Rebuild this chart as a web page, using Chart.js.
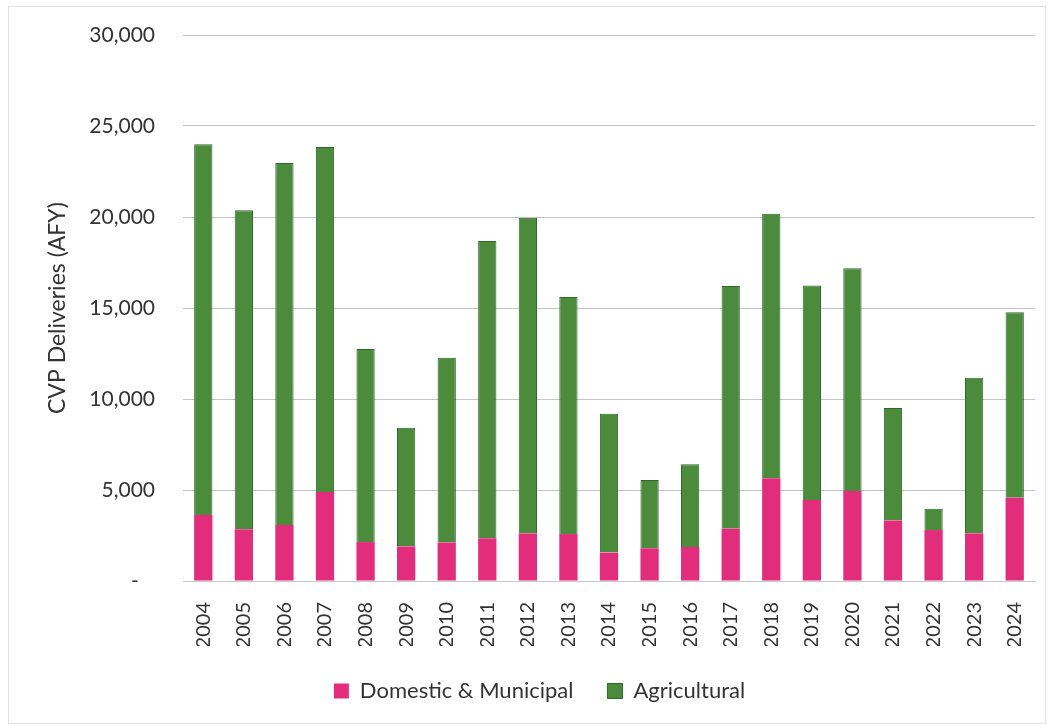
<!DOCTYPE html>
<html>
<head>
<meta charset="utf-8">
<script src="https://cdn.jsdelivr.net/npm/chart.js@4.4.1/dist/chart.umd.min.js"></script>
<style>
  html, body { margin: 0; padding: 0; background: #fff; }
  #wrap { position: relative; width: 1051px; height: 725px; }
  #frame { position: absolute; left: 8px; top: 6px; width: 1036px; height: 716px; border: 1px solid #e2e2e2; pointer-events: none; }
  canvas { display: block; }
</style>
</head>
<body>
<div id="wrap">
  <canvas id="c" width="1051" height="725"></canvas>
  <div id="frame"></div>
</div>
<script>
const years = ['2004','2005','2006','2007','2008','2009','2010','2011','2012','2013','2014','2015','2016','2017','2018','2019','2020','2021','2022','2023','2024'];
const domestic = [3630, 2840, 3080, 4890, 2140, 1900, 2120, 2350, 2620, 2580, 1560, 1800, 1870, 2870, 5640, 4450, 4950, 3330, 2800, 2620, 4580];
const totals   = [24000, 20370, 22970, 23850, 12750, 8420, 12270, 18680, 19960, 15600, 9190, 5550, 6410, 16210, 20180, 16230, 17180, 9510, 3970, 11170, 14760];
const agricultural = totals.map((t, i) => t - domestic[i]);
const yTicks = [0, 5000, 10000, 15000, 20000, 25000, 30000];

const FONT = 'Lato, "Open Sans", sans-serif';

new Chart(document.getElementById('c'), {
  type: 'bar',
  data: {
    labels: years,
    datasets: [
      { label: 'Domestic & Municipal', data: domestic, backgroundColor: '#e22d7d', borderColor: '#d2246f', borderWidth: 0, barPercentage: 0.45, categoryPercentage: 1.0 },
      { label: 'Agricultural', data: agricultural, backgroundColor: '#4c8a3c', borderColor: '#2b6a2b', borderWidth: 1, barPercentage: 0.45, categoryPercentage: 1.0 }
    ]
  },
  options: {
    responsive: false,
    animation: false,
    layout: { padding: { left: 44, right: 16, top: 35, bottom: 13 } },
    plugins: {
      legend: {
        position: 'bottom',
        labels: {
          font: { family: FONT, size: 22 },
          color: '#333',
          boxWidth: 15,
          boxHeight: 15,
          padding: 34
        }
      },
      tooltip: { enabled: false }
    },
    scales: {
      x: {
        stacked: true,
        grid: { display: true, color: 'transparent', drawTicks: true, tickLength: 14, tickColor: 'transparent' },
        border: { display: true, color: '#c8c8c8' },
        ticks: { font: { family: FONT, size: 20 }, color: '#333', minRotation: 90, maxRotation: 90, padding: 7, autoSkip: false },
        afterFit: (s) => { s.height = 65; }
      },
      y: {
        stacked: true,
        min: 0, max: 30000,
        afterBuildTicks: (s) => { s.ticks = yTicks.map(v => ({ value: v })); },
        grid: { color: '#c4c4c4', drawTicks: true, tickLength: 20, tickColor: 'transparent' },
        border: { display: false },
        ticks: {
          font: { family: FONT, size: 21 },
          color: '#333',
          padding: 8,
          callback: (v) => v === 0 ? '-   ' : v.toLocaleString('en-US')
        },
        title: { display: true, text: 'CVP Deliveries (AFY)', font: { family: FONT, size: 23 }, color: '#333', padding: { top: 0, bottom: 4 } },
        afterFit: (s) => { s.width = 139; }
      }
    }
  }
});
</script>
</body>
</html>
